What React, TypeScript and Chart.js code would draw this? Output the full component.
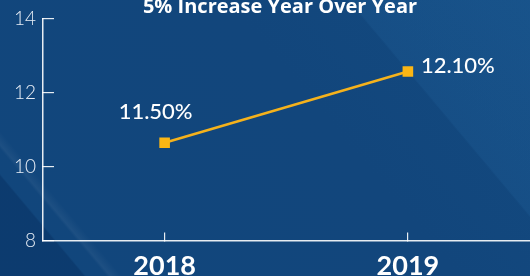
import React, { useEffect, useRef } from "react";
import { Chart, registerables } from "chart.js";

Chart.register(...registerables);

const categories = ["2018", "2019"];
const values = [10.65, 12.58];
const valueLabels = ["11.50%", "12.10%"];
const yTicks = [8, 10, 12, 14];
const titleText = "5% Increase Year Over Year";

const FONT = "Lato, 'Open Sans', sans-serif";

export default function App() {
  const ref = useRef<HTMLCanvasElement>(null);
  useEffect(() => {
    if (!ref.current) return;
    const titlePlugin = {
      id: "customTitle",
      afterDraw(chart: any) {
        const ctx = chart.ctx;
        ctx.save();
        ctx.fillStyle = "#ffffff";
        ctx.font = `bold 20px 'Open Sans', sans-serif`;
        ctx.textAlign = "center";
        ctx.textBaseline = "alphabetic";
        ctx.fillText(titleText, 280, 13);
        ctx.restore();
      },
    };
    const labelPlugin = {
      id: "valueLabels",
      afterDatasetsDraw(chart: any) {
        const ctx = chart.ctx;
        const meta = chart.getDatasetMeta(0);
        ctx.save();
        ctx.fillStyle = "#ffffff";
        ctx.font = `500 22px ${FONT}`;
        ctx.textBaseline = "middle";
        meta.data.forEach((pt: any, i: number) => {
          if (i === 0) {
            ctx.textAlign = "center";
            ctx.fillText(valueLabels[i], pt.x - 9, pt.y - 31);
          } else {
            ctx.textAlign = "left";
            ctx.fillText(valueLabels[i], pt.x + 13, pt.y - 6);
          }
        });
        ctx.restore();
      },
    };
    const chart = new Chart(ref.current, {
      type: "line",
      data: {
        labels: categories,
        datasets: [
          {
            data: values,
            borderColor: "#f5b21c",
            backgroundColor: "#fbb614",
            borderWidth: 2.5,
            pointStyle: "rect",
            pointRadius: 7.5,
            pointBorderWidth: 0,
            pointBackgroundColor: "#fbb614",
            tension: 0,
          },
        ],
      },
      options: {
        responsive: false,
        animation: false,
        layout: { padding: { top: 19, right: 0, bottom: 14, left: 0 } },
        plugins: {
          legend: { display: false },
          tooltip: { enabled: false },
          title: { display: false },
        },
        scales: {
          x: {
            type: "category",
            offset: true,
            grid: {
              display: true,
              drawOnChartArea: false,
              drawTicks: true,
              tickLength: -8,
              color: "rgba(255,255,255,0.9)",
              lineWidth: 1.2,
              offset: false,
            },
            border: { display: true, color: "rgba(255,255,255,0.9)", width: 1.5 },
            ticks: {
              color: "#ffffff",
              font: { family: FONT, size: 27, weight: "bold" },
              padding: 17,
              maxRotation: 0,
            },
          },
          y: {
            type: "linear",
            min: 8,
            max: 14,
            afterFit: (s: any) => {
              s.width = 43;
              s.paddingTop = 10;
              s.paddingBottom = 10;
            },
            afterBuildTicks: (s: any) => {
              s.ticks = yTicks.map((v) => ({ value: v }));
            },
            grid: {
              display: true,
              drawOnChartArea: false,
              drawTicks: true,
              tickLength: -11,
              color: "rgba(255,255,255,0.9)",
              lineWidth: 1.2,
            },
            border: { display: true, color: "rgba(255,255,255,0.9)", width: 1.5 },
            ticks: {
              color: "#e8eef6",
              font: { family: FONT, size: 19, weight: "300" },
              padding: 18,
            },
          },
        },
      },
      plugins: [titlePlugin, labelPlugin],
    });
    return () => chart.destroy();
  }, []);

  return (
    <div
      style={{
        position: "fixed",
        left: 0,
        top: 0,
        width: 530,
        height: 276,
        overflow: "hidden",
        background:
          "linear-gradient(50deg, rgba(8,50,100,0.55) 0%, rgba(8,50,100,0.55) 11%, rgba(8,50,100,0) 11.3%)," +
          "linear-gradient(50deg, rgba(255,255,255,0) 14%, rgba(255,255,255,0.05) 14.5%, rgba(255,255,255,0) 16%)," +
          "linear-gradient(50deg, rgba(40,110,170,0) 76%, rgba(40,110,170,0.18) 76.3%, rgba(40,110,170,0.25) 100%)," +
          "linear-gradient(50deg, #11467c 0%, #12467c 60%, #134a80 100%)",
      }}
    >
      <canvas ref={ref} width={537} height={313} style={{ display: "block" }} />
    </div>
  );
}
